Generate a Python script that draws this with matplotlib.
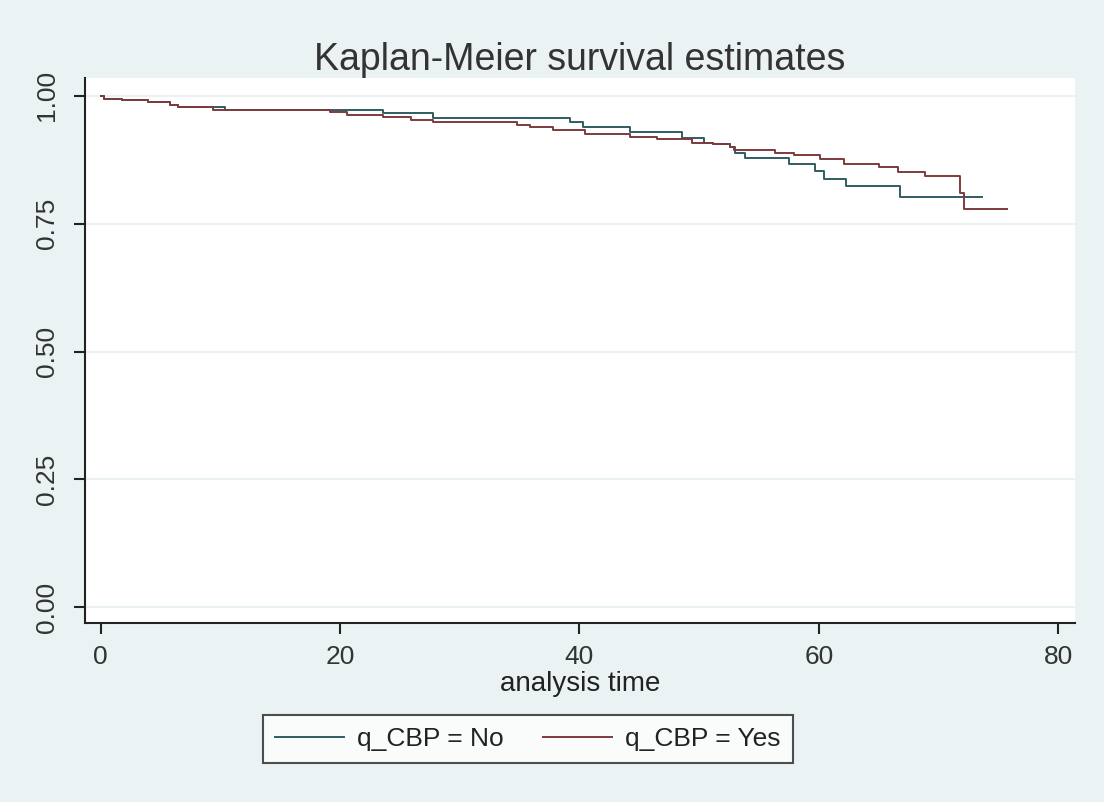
import matplotlib
matplotlib.use("Agg")
import matplotlib.pyplot as plt
from matplotlib.lines import Line2D

plt.rcParams['font.family'] = ['Liberation Sans', 'DejaVu Sans']

# Kaplan-Meier step data (time, survival)
time_no = [0, 0.3, 1.8, 4.0, 5.8, 6.5, 10.4, 23.6, 27.8, 39.2, 40.3, 44.2, 48.6,
           50.4, 51.2, 52.6, 53.0, 53.8, 57.5, 59.7, 60.4, 62.3, 66.8, 73.6]
surv_no = [1.0, 0.994, 0.991, 0.988, 0.983, 0.978, 0.972, 0.967, 0.957, 0.948, 0.940, 0.930, 0.917,
           0.907, 0.905, 0.900, 0.889, 0.879, 0.866, 0.853, 0.838, 0.824, 0.802, 0.802]

time_yes = [0, 0.3, 1.8, 4.0, 5.8, 6.5, 9.4, 19.2, 20.6, 23.6, 25.9, 27.8, 34.8, 35.9,
            37.8, 40.5, 44.2, 46.5, 49.4, 51.2, 52.6, 52.9, 56.3, 57.9, 60.1, 62.1,
            65.0, 66.6, 68.9, 71.8, 72.1, 75.7]
surv_yes = [1.0, 0.994, 0.991, 0.988, 0.983, 0.978, 0.972, 0.968, 0.963, 0.958, 0.952, 0.948, 0.944, 0.939,
            0.934, 0.926, 0.920, 0.915, 0.907, 0.905, 0.900, 0.894, 0.889, 0.885, 0.876, 0.867,
            0.860, 0.852, 0.843, 0.811, 0.778, 0.778]

labels = ["q_CBP = No", "q_CBP = Yes"]
xticks = [0, 20, 40, 60, 80]
yticks = [0.00, 0.25, 0.50, 0.75, 1.00]

bg = '#eaf2f3'
c_no = '#2f5d62'
c_yes = '#7f3a3d'

W, H = 1104, 802
fig = plt.figure(figsize=(W / 100, H / 100), dpi=100, facecolor=bg)
ax = fig.add_axes([85 / W, 1 - 623 / H, (1075 - 85) / W, (623 - 78) / H])
ax.set_facecolor('white')

ax.step(time_no, surv_no, where='post', color=c_no, lw=1.4)
ax.step(time_yes, surv_yes, where='post', color=c_yes, lw=1.4)

ax.set_xlim(-1.3, 81.4)
ax.set_ylim(-0.031, 1.035)
ax.set_xticks(xticks)
ax.set_yticks(yticks)
ax.set_yticklabels([f"{v:.2f}" for v in yticks], rotation=90, va='center')
ax.set_xticklabels([str(v) for v in xticks])
for y in yticks:
    ax.axhline(y, color=bg, lw=1.5, zorder=0)

for s in ['top', 'right']:
    ax.spines[s].set_visible(False)
for s in ['left', 'bottom']:
    ax.spines[s].set_linewidth(1.5)
    ax.spines[s].set_color('#222222')
ax.tick_params(axis='both', length=8, width=1.5, color='#222222',
               labelsize=19, labelcolor='#333333')
ax.tick_params(axis='x', pad=8)
ax.tick_params(axis='y', pad=11)

fig.text(580 / W, 1 - 60 / H, "Kaplan-Meier survival estimates", ha='center', va='center',
         fontsize=27, color='#333333')
fig.text(580 / W, 1 - 684 / H, "analysis time", ha='center', va='center',
         fontsize=20, color='#222222')

handles = [Line2D([], [], color=c_no, lw=1.4), Line2D([], [], color=c_yes, lw=1.4)]
leg = fig.legend(handles, labels, loc='center', bbox_to_anchor=(528 / W, 1 - 739 / H),
                 ncol=2, fontsize=19, frameon=True, fancybox=False, handlelength=2.6,
                 columnspacing=1.5, handletextpad=0.5, borderpad=0.45, borderaxespad=0)
leg.get_frame().set_edgecolor('#222222')
leg.get_frame().set_linewidth(1.5)
leg.get_frame().set_facecolor('white')
for t in leg.get_texts():
    t.set_color('#222222')

fig.savefig("out.png", dpi=100, facecolor=bg)
